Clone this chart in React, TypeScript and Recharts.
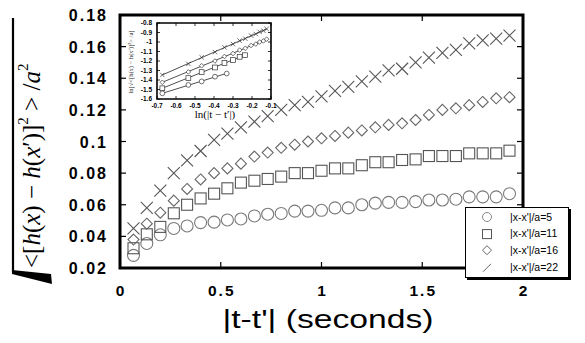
import React from 'react';
import { ComposedChart, Scatter, XAxis, YAxis, ReferenceArea } from 'recharts';

// ---------- main chart data ----------
const timeLags = [0.067, 0.133, 0.2, 0.267, 0.333, 0.4, 0.467, 0.533, 0.6, 0.667, 0.733, 0.8, 0.867, 0.933, 1.0, 1.067, 1.133, 1.2, 1.267, 1.333, 1.4, 1.467, 1.533, 1.6, 1.667, 1.733, 1.8, 1.867, 1.933];
const widthA5 = [0.028, 0.0355, 0.041, 0.045, 0.0466, 0.0487, 0.049, 0.0504, 0.051, 0.0529, 0.054, 0.0545, 0.056, 0.056, 0.0565, 0.058, 0.058, 0.06, 0.061, 0.0615, 0.0615, 0.062, 0.063, 0.063, 0.0635, 0.065, 0.065, 0.065, 0.067];
const widthA11 = [0.0325, 0.0413, 0.046, 0.0546, 0.06, 0.064, 0.067, 0.0704, 0.074, 0.0752, 0.0763, 0.0778, 0.08, 0.08, 0.0815, 0.083, 0.083, 0.085, 0.0869, 0.0869, 0.0883, 0.0887, 0.0908, 0.0908, 0.0908, 0.0925, 0.0925, 0.0925, 0.0942];
const widthA16 = [0.038, 0.048, 0.055, 0.0626, 0.07, 0.076, 0.08, 0.083, 0.086, 0.0905, 0.093, 0.096, 0.098, 0.1, 0.102, 0.1035, 0.1056, 0.107, 0.109, 0.1105, 0.1115, 0.1136, 0.1168, 0.12, 0.121, 0.123, 0.125, 0.1273, 0.128];
const widthA22 = [0.045, 0.058, 0.069, 0.08, 0.088, 0.094, 0.101, 0.105, 0.109, 0.1125, 0.116, 0.12, 0.123, 0.125, 0.1285, 0.132, 0.1346, 0.138, 0.141, 0.145, 0.146, 0.15, 0.153, 0.156, 0.158, 0.162, 0.164, 0.165, 0.167];
const seriesNames = ["|x-x'|/a=5", "|x-x'|/a=11", "|x-x'|/a=16", "|x-x'|/a=22"];

const xTicks = [0, 0.5, 1, 1.5, 2];
const xTickLabels = ['0', '0.5', '1', '1.5', '2'];
const yTicks = [0.02, 0.04, 0.06, 0.08, 0.1, 0.12, 0.14, 0.16, 0.18];
const yTickLabels = ['0.02', '0.04', '0.06', '0.08', '0.1', '0.12', '0.14', '0.16', '0.18'];

// ---------- inset data (log-log) ----------
const insetLagLong = [-0.672, -0.535, -0.465, -0.395, -0.345, -0.3, -0.265, -0.235, -0.205, -0.18, -0.16, -0.14, -0.123];
const insetA22 = [-1.347, -1.23, -1.162, -1.106, -1.056, -1.022, -0.986, -0.965, -0.933, -0.916, -0.893, -0.881, -0.862];
const insetA16 = [-1.424, -1.315, -1.25, -1.2, -1.152, -1.121, -1.085, -1.066, -1.037, -1.022, -1.0, -0.989, -0.97];
const insetLagMid = [-0.672, -0.535, -0.465, -0.395, -0.345, -0.3, -0.265, -0.237];
const insetA11 = [-1.487, -1.38, -1.317, -1.268, -1.221, -1.19, -1.156, -1.139];
const insetLagShort = [-0.672, -0.535, -0.465, -0.395, -0.333];
const insetA5 = [-1.54, -1.452, -1.415, -1.365, -1.332];
const insetFitLag = [-0.672, -0.123];
const insetFitA22 = [-1.347, -0.863];
const insetFitA16 = [-1.424, -0.972];
const insetFitLagA11 = [-0.672, -0.237];
const insetFitA11 = [-1.487, -1.137];
const insetFitLagA5 = [-0.672, -0.333];
const insetFitA5 = [-1.54, -1.33];

const insetXTicks = [-0.7, -0.6, -0.5, -0.4, -0.3, -0.2, -0.1];
const insetXTickLabels = ['-0.7', '-0.6', '-0.5', '-0.4', '-0.3', '-0.2', '-0.1'];
const insetYTicks = [-1.6, -1.5, -1.4, -1.3, -1.2, -1.1, -1, -0.9, -0.8];
const insetYTickLabels = ['-1.6', '-1.5', '-1.4', '-1.3', '-1.2', '-1.1', '-1', '-0.9', '-0.8'];

// ---------- build point tables ----------
const pts = (xs: number[], ys: number[]) => xs.map((x, i) => ({ x, y: ys[i] }));
const dataA5 = pts(timeLags, widthA5);
const dataA11 = pts(timeLags, widthA11);
const dataA16 = pts(timeLags, widthA16);
const dataA22 = pts(timeLags, widthA22);

// ---------- layout constants ----------
const P = { left: 120, right: 523, top: 15, bottom: 268 };
const IP = { left: 57, right: 171, top: 18, bottom: 94 }; // inset plot, local coords

const SANS = 'Liberation Sans, Arial, Helvetica, sans-serif';
const SERIF = 'Liberation Serif, DejaVu Serif, Times New Roman, serif';

// ---------- marker shapes ----------
const circleShape = (p: any) => <circle cx={p.cx} cy={p.cy} r={6} fill="none" stroke="#7a7a7a" strokeWidth={1.1} />;
const squareShape = (p: any) => <rect x={p.cx - 5.5} y={p.cy - 5.5} width={11} height={11} fill="none" stroke="#555" strokeWidth={1.1} />;
const diamondShape = (p: any) => (
  <path d={`M${p.cx},${p.cy - 5.5}L${p.cx + 5.5},${p.cy}L${p.cx},${p.cy + 5.5}L${p.cx - 5.5},${p.cy}Z`} fill="none" stroke="#666" strokeWidth={1.1} />
);
const crossShape = (p: any) => (
  <path d={`M${p.cx - 6},${p.cy - 6}L${p.cx + 6},${p.cy + 6}M${p.cx - 6},${p.cy + 6}L${p.cx + 6},${p.cy - 6}`} fill="none" stroke="#555" strokeWidth={1.1} />
);

const smallCircle = (p: any) => <circle cx={p.cx} cy={p.cy} r={2.4} fill="#fff" stroke="#333" strokeWidth={0.7} />;
const smallSquare = (p: any) => <rect x={p.cx - 2.4} y={p.cy - 2.4} width={4.8} height={4.8} fill="#fff" stroke="#333" strokeWidth={0.7} />;
const smallDiamond = (p: any) => (
  <path d={`M${p.cx},${p.cy - 2.3}L${p.cx + 2.3},${p.cy}L${p.cx},${p.cy + 2.3}L${p.cx - 2.3},${p.cy}Z`} fill="#fff" stroke="#333" strokeWidth={0.7} />
);
const smallCross = (p: any) => (
  <path d={`M${p.cx - 2.2},${p.cy - 2.2}L${p.cx + 2.2},${p.cy + 2.2}M${p.cx - 2.2},${p.cy + 2.2}L${p.cx + 2.2},${p.cy - 2.2}`} fill="none" stroke="#333" strokeWidth={0.7} />
);
const noShape = () => <g />;

// ---------- main ticks ----------
const XTick = (props: any) => {
  const { x, payload } = props;
  const i = xTicks.indexOf(payload.value);
  return (
    <g>
      <line x1={x} x2={x} y1={P.bottom} y2={P.bottom - 6} stroke="#000" strokeWidth={1.2} />
      <line x1={x} x2={x} y1={P.top} y2={P.top + 6} stroke="#000" strokeWidth={1.2} />
      <text x={x + 1} y={296} textAnchor="middle" fontFamily={SANS} fontWeight="bold" fontSize={15.5} letterSpacing={2} fill="#000">
        {xTickLabels[i]}
      </text>
    </g>
  );
};

const YTick = (props: any) => {
  const { y, payload } = props;
  const i = yTicks.indexOf(payload.value);
  return (
    <g>
      <line x1={P.left} x2={P.left + 6} y1={y} y2={y} stroke="#000" strokeWidth={1.2} />
      <line x1={P.right - 6} x2={P.right} y1={y} y2={y} stroke="#000" strokeWidth={1.2} />
      <text x={108} y={y} dy={6} textAnchor="end" fontFamily={SANS} fontWeight="bold" fontSize={16} letterSpacing={2} fill="#000">
        {yTickLabels[i]}
      </text>
    </g>
  );
};

const XTitle = () => (
  <text x={328} y={328} textAnchor="middle" fontFamily={SANS} fontSize={25} textLength={211} lengthAdjust="spacingAndGlyphs" fill="#000">
    |t-t'| (seconds)
  </text>
);

const YTitle = () => (
  <g>
    <path d="M13,18 L13,272" stroke="#000" strokeWidth={2.2} fill="none" />
    <polygon points="12,270 51,274 52,284 12,274" fill="#000" />
    <text transform="translate(40,268) rotate(-90)" fontFamily={SERIF} fontSize={25} fill="#000">
      {'<['}
      <tspan fontStyle="italic">h</tspan>
      {'('}
      <tspan fontStyle="italic">x</tspan>
      {') \u2212 '}
      <tspan fontStyle="italic">h</tspan>
      {'('}
      <tspan fontStyle="italic">x</tspan>
      {'\u2032)]'}
      <tspan fontSize={15} dy={-12}>2</tspan>
      <tspan dy={12}>{' > /'}</tspan>
      <tspan fontStyle="italic">a</tspan>
      <tspan fontSize={15} dy={-12}>2</tspan>
    </text>
  </g>
);

// ---------- inset ticks ----------
const InsetXTick = (props: any) => {
  const { x, payload } = props;
  const i = insetXTicks.findIndex((v) => Math.abs(v - payload.value) < 1e-6);
  return (
    <g>
      <line x1={x} x2={x} y1={IP.bottom} y2={IP.bottom - 3} stroke="#000" strokeWidth={0.8} />
      <line x1={x} x2={x} y1={IP.top} y2={IP.top + 3} stroke="#000" strokeWidth={0.8} />
      <text x={x} y={IP.bottom + 8.5} textAnchor="middle" fontFamily={SANS} fontWeight="bold" fontSize={6.5} fill="#000">
        {insetXTickLabels[i]}
      </text>
    </g>
  );
};

const InsetYTick = (props: any) => {
  const { y, payload } = props;
  const i = insetYTicks.findIndex((v) => Math.abs(v - payload.value) < 1e-6);
  return (
    <g>
      <line x1={IP.left} x2={IP.left + 3} y1={y} y2={y} stroke="#000" strokeWidth={0.8} />
      <line x1={IP.right - 3} x2={IP.right} y1={y} y2={y} stroke="#000" strokeWidth={0.8} />
      <text x={IP.left - 5} y={y} dy={2.3} textAnchor="end" fontFamily={SANS} fontWeight="bold" fontSize={6.5} fill="#000">
        {insetYTickLabels[i]}
      </text>
    </g>
  );
};

const InsetXTitle = () => (
  <text x={115} y={113} textAnchor="middle" fontFamily={SERIF} fontSize={11} fill="#000">
    ln(|t − t′|)
  </text>
);

const InsetYTitle = () => (
  <text transform="translate(33,57) rotate(-90)" textAnchor="middle" fontFamily={SERIF} fontSize={6.5} fill="#222">
    ln[√&lt;[h(x) − h(x′)]²&gt; /a]
  </text>
);

const Inset = () => (
  <ComposedChart width={190} height={120} margin={{ top: IP.top, right: 190 - IP.right, left: 0, bottom: 0 }}>
    <XAxis type="number" dataKey="x" domain={[-0.7, -0.1]} ticks={insetXTicks} axisLine={false} tickLine={false} tick={<InsetXTick />} height={26} interval={0} label={<InsetXTitle />} />
    <YAxis type="number" dataKey="y" domain={[-1.6, -0.8]} ticks={insetYTicks} axisLine={false} tickLine={false} tick={<InsetYTick />} width={IP.left} interval={0} label={<InsetYTitle />} />
    <ReferenceArea x1={-0.7} x2={-0.1} y1={-1.6} y2={-0.8} fill="#fff" fillOpacity={0} stroke="#000" strokeWidth={1.6} />
    <Scatter data={pts(insetFitLag, insetFitA22)} shape={noShape} line={{ stroke: '#222', strokeWidth: 0.8 }} isAnimationActive={false} />
    <Scatter data={pts(insetFitLag, insetFitA16)} shape={noShape} line={{ stroke: '#222', strokeWidth: 0.8 }} isAnimationActive={false} />
    <Scatter data={pts(insetFitLagA11, insetFitA11)} shape={noShape} line={{ stroke: '#222', strokeWidth: 0.8 }} isAnimationActive={false} />
    <Scatter data={pts(insetFitLagA5, insetFitA5)} shape={noShape} line={{ stroke: '#222', strokeWidth: 0.8 }} isAnimationActive={false} />
    <Scatter data={pts(insetLagLong, insetA22)} shape={smallCross} isAnimationActive={false} />
    <Scatter data={pts(insetLagLong, insetA16)} shape={smallDiamond} isAnimationActive={false} />
    <Scatter data={pts(insetLagMid, insetA11)} shape={smallSquare} isAnimationActive={false} />
    <Scatter data={pts(insetLagShort, insetA5)} shape={smallCircle} isAnimationActive={false} />
  </ComposedChart>
);

const legendSymbols = [
  (cx: number, cy: number) => <circle cx={cx} cy={cy} r={4.5} fill="none" stroke="#888" strokeWidth={1} />,
  (cx: number, cy: number) => <rect x={cx - 4.5} y={cy - 4} width={9} height={9} fill="none" stroke="#555" strokeWidth={1} />,
  (cx: number, cy: number) => <path d={`M${cx},${cy - 4.5}L${cx + 4.5},${cy}L${cx},${cy + 4.5}L${cx - 4.5},${cy}Z`} fill="none" stroke="#666" strokeWidth={1} />,
  (cx: number, cy: number) => <path d={`M${cx - 4},${cy + 5}L${cx + 4},${cy - 3}`} fill="none" stroke="#666" strokeWidth={1} />,
];

const LegendBox = () => (
  <div
    style={{
      position: 'absolute',
      left: 465,
      top: 207,
      width: 102,
      height: 69,
      background: '#fff',
      border: '1px solid #000',
      boxShadow: '2px 2px 0 #000',
    }}
  >
    <svg width={102} height={69} style={{ display: 'block' }}>
      {seriesNames.map((name, i) => {
        const cy = 9 + i * 16.6;
        return (
          <g key={name}>
            {legendSymbols[i](21, cy)}
            <text x={44} y={cy + 3.8} fontFamily={SANS} fontSize={10.5} fill="#000">
              {name}
            </text>
          </g>
        );
      })}
    </svg>
  </div>
);

export default function App() {
  return (
    <div style={{ position: 'absolute', left: 0, top: 0, width: 585, height: 343, background: '#fff' }}>
      <ComposedChart width={585} height={343} margin={{ top: P.top, right: 585 - P.right, left: 0, bottom: 0 }}>
        <XAxis type="number" dataKey="x" domain={[0, 2]} ticks={xTicks} axisLine={false} tickLine={false} tick={<XTick />} height={343 - P.bottom} interval={0} label={<XTitle />} />
        <YAxis type="number" dataKey="y" domain={[0.02, 0.18]} ticks={yTicks} axisLine={false} tickLine={false} tick={<YTick />} width={P.left} interval={0} label={<YTitle />} />
        <ReferenceArea x1={0} x2={2} y1={0.02} y2={0.18} fill="#fff" fillOpacity={0} stroke="#000" strokeWidth={3} />
        <Scatter name={seriesNames[0]} data={dataA5} shape={circleShape} isAnimationActive={false} />
        <Scatter name={seriesNames[1]} data={dataA11} shape={squareShape} isAnimationActive={false} />
        <Scatter name={seriesNames[2]} data={dataA16} shape={diamondShape} isAnimationActive={false} />
        <Scatter name={seriesNames[3]} data={dataA22} shape={crossShape} isAnimationActive={false} />
      </ComposedChart>
      <div style={{ position: 'absolute', left: 100, top: 5 }}>
        <Inset />
      </div>
      <LegendBox />
    </div>
  );
}
